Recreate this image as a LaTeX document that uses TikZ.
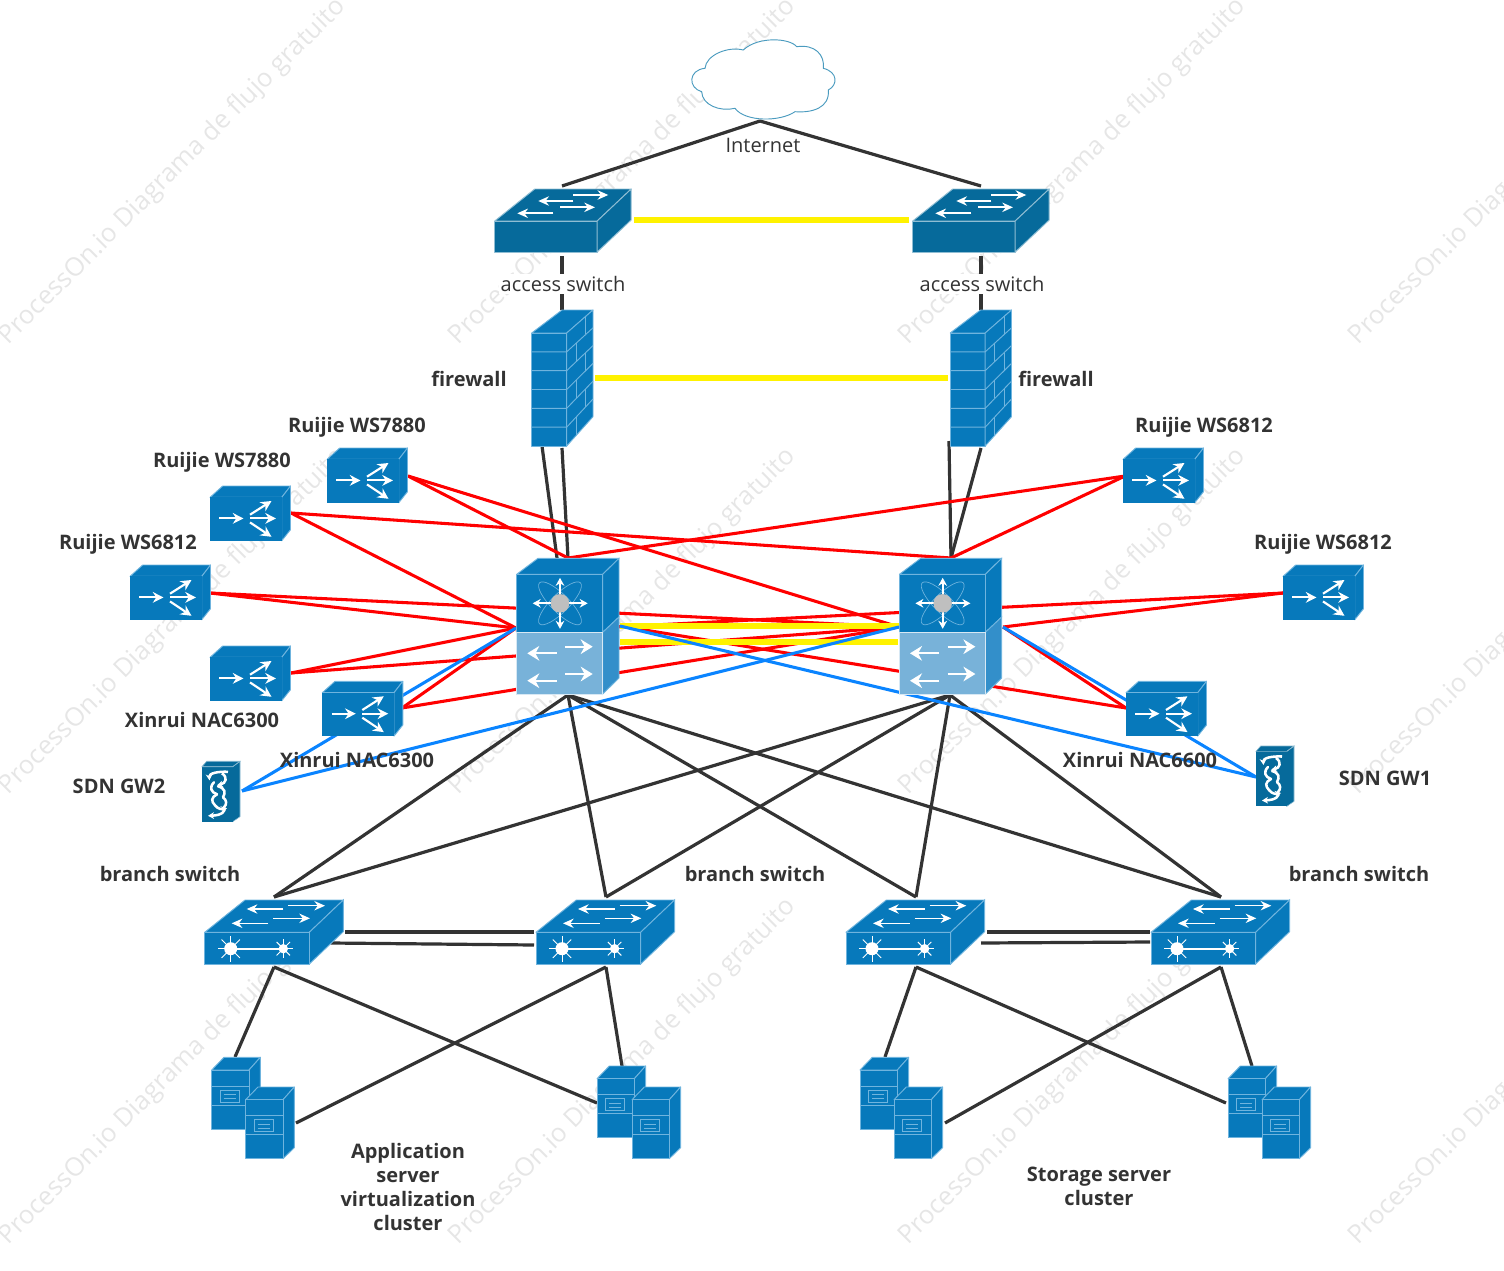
\documentclass[tikz,border=0pt]{standalone}
\usepackage{fontspec}
\setmainfont{Open Sans}
\usetikzlibrary{arrows.meta}
\definecolor{dk}{HTML}{066A9B}
\definecolor{bl}{HTML}{0779BB}
\definecolor{edgeb}{HTML}{6FB4DE}
\definecolor{edged}{HTML}{8FBDD3}
\definecolor{lightb}{HTML}{78B2D9}
\definecolor{midb}{HTML}{338FCA}
\definecolor{txt}{HTML}{333333}
\definecolor{wmk}{HTML}{E6E6E6}
\definecolor{blueline}{HTML}{0A84FF}
\definecolor{cloudc}{HTML}{4A9BBF}
\tikzset{
  x=0.75pt,y=-0.75pt,
  blk/.style={draw=txt,line width=2.4pt},
  redl/.style={draw=red,line width=2.3pt},
  yel/.style={draw=yellow,line width=3.9pt},
  yelb/.style={draw=yellow,line width=4.6pt},
  blu/.style={draw=blueline,line width=2.3pt},
  face/.style={fill=bl,draw=edgeb,line width=0.7pt,line join=round},
  faced/.style={fill=dk,draw=edged,line width=0.7pt,line join=round},
  wa/.style={draw=white,line width=1.3pt,-{Stealth[length=8pt,width=7pt]}},
  wb/.style={draw=white,line width=1.5pt,-{Stealth[length=9pt,width=11pt]}},
  wc/.style={draw=white,line width=1.5pt,-{Stealth[length=6pt,width=6.5pt]}},
  wr/.style={draw=white,line width=1.6pt,-{Stealth[length=8pt,width=8pt]}},
  wg/.style={draw=white,line width=1.9pt,line cap=round},
  wga/.style={draw=white,line width=1.9pt,-{Stealth[length=4.5pt,width=5pt]}},
  plain/.style={font=\fontsize{15}{18}\selectfont,text=txt,inner sep=1pt},
  bold/.style={font=\fontsize{15}{18}\selectfont\bfseries,text=txt,inner sep=1pt,align=center},
  wmark/.style={font=\fontsize{19.3}{24}\selectfont,text=wmk,rotate=45,inner sep=0pt},
  accesssw/.pic={
    \path[faced] (0,32)--(40,0)--(136.5,0)--(102.5,32)--cycle;
    \path[faced] (0,32) rectangle (102.5,63);
    \path[faced] (102.5,32)--(136.5,0)--(136.5,31)--(102.5,63)--cycle;
    \draw[wa] (78.6,6)--(113.6,6);
    \draw[wa] (78.6,12)--(43.6,12);
    \draw[wa] (65.3,18.3)--(100.3,18.3);
    \draw[wa] (58.6,24.3)--(22.6,24.3);
  },
  firewallic/.pic={
    \path[face] (0,23)--(30.3,0)--(61.3,0)--(35,23)--cycle;
    \path[face] (0,23) rectangle (35,136);
    \path[face] (35,23)--(61.3,0)--(61.3,106.7)--(35,136)--cycle;
    \foreach \k in {1,...,5}{
      \draw[edgeb,line width=0.7pt] (0,23+18.83*\k)--(35,23+18.83*\k)--(61.3,17.8*\k);
    }
    \foreach \k/\vx in {0/54,1/44.6,2/54,3/44.6,4/54,5/44.6}{
      \pgfmathsetmacro{\ya}{(23+18.83*\k)+(\vx-35)/26.3*(17.8*\k-23-18.83*\k)}
      \pgfmathsetmacro{\yb}{(23+18.83*(\k+1))+(\vx-35)/26.3*(17.8*(\k+1)-23-18.83*(\k+1))}
      \draw[edgeb,line width=0.7pt] (\vx,\ya)--(\vx,\yb);
    }
  },
  coreic/.pic={
    \path[face] (0,16)--(21.3,0)--(102.3,0)--(86,16)--cycle;
    \path[fill=bl,draw=edgeb,line width=0.7pt] (86,16)--(102.3,0)--(102.3,58.7)--(86,74)--cycle;
    \path[fill=midb,draw=edgeb,line width=0.7pt] (86,74)--(102.3,58.7)--(102.3,119.7)--(86,135.7)--cycle;
    \path[fill=bl,draw=edgeb,line width=0.7pt] (0,16) rectangle (86,74);
    \path[fill=lightb,draw=white!70!lightb,line width=0.7pt] (0,74) rectangle (86,135.7);
    \draw[edgeb,line width=0.5pt,rotate around={45:(43.3,45)}] (43.3,45) ellipse [x radius=29,y radius=9];
    \draw[edgeb,line width=0.5pt,rotate around={-45:(43.3,45)}] (43.3,45) ellipse [x radius=29,y radius=9];
    \draw[wc] (43.3,45)--(43.3,19.5);
    \draw[wc] (43.3,45)--(43.3,70.5);
    \draw[wc] (43.3,45)--(16,45);
    \draw[wc] (43.3,45)--(71,45);
    \fill[black!25] (43.3,45) circle (9.3);
    \draw[wb] (40,95)--(10.6,95);
    \draw[wb] (48.3,88.4)--(76,88.4);
    \draw[wb] (40,122.4)--(10.6,122.4);
    \draw[wb] (48.3,115.7)--(76,115.7);
  },
  routeric/.pic={
    \path[face] (0,11.4)--(12.7,0)--(80.5,0)--(71.7,11.4)--cycle;
    \path[face] (71.7,11.4)--(80.5,0)--(80.5,43.7)--(71.7,54.8)--cycle;
    \path[fill=bl] (0,11.4) rectangle (71.7,54.8);
    \draw[wr] (9.4,32.4)--(33.5,32.4);
    \draw[wr] (40,28.7)--(61.5,15);
    \draw[wr] (40,32.4)--(66,32.4);
    \draw[wr] (40,36.4)--(61.5,50.8);
  },
  branchic/.pic={
    \path[face] (0,32.3)--(40.3,0)--(138.6,0)--(104.6,32.3)--cycle;
    \path[fill=bl,draw=edgeb,line width=0.7pt] (104.6,32.3)--(138.6,0)--(138.6,31.7)--(104.6,64)--cycle;
    \path[fill=bl,draw=edgeb,line width=0.7pt] (0,32.3) rectangle (104.6,64);
    \draw[wa,line width=1.1pt] (78.6,9)--(42,9);
    \draw[wa,line width=1.1pt] (83.6,5.7)--(120.3,5.7);
    \draw[wa,line width=1.1pt] (68.6,18.3)--(105.3,18.3);
    \draw[wa,line width=1.1pt] (63.6,23.3)--(27,23.3);
    \draw[white,line width=1.4pt] (26,48.7)--(78.6,48.7);
    \fill[white] (26,48.7) circle (6.5) (78.6,48.7) circle (4.7);
    \foreach \a in {0,45,...,315}{
      \draw[white,line width=0.7pt] (26,48.7)--++(\a:13);
      \draw[white,line width=0.7pt] (78.6,48.7)--++(\a:9.5);
    }
  },
  serveric/.pic={
    \path[face] (0,12.7)--(12.3,0)--(48.6,0)--(37.3,12.7)--cycle;
    \path[face] (37.3,12.7)--(48.6,0)--(48.6,60.7)--(37.3,71.7)--cycle;
    \path[face] (0,12.7) rectangle (37.3,71.7);
    \draw[edgeb,line width=0.7pt] (0,28.7)--(37.3,28.7) (0,47.7)--(37.3,47.7);
    \draw[edgeb,line width=0.7pt] (8.3,32.7) rectangle (27.3,44.7);
    \draw[edgeb,line width=0.6pt] (12,37)--(24,37) (12,41)--(24,41);
  },
  gwic/.pic={
    \path[fill=dk] (0,5.4)--(4.7,0)--(38,0)--(30.7,5.4)--cycle;
    \path[fill=dk,draw=edged,line width=0.4pt] (30.7,5.4)--(38,0)--(38,55.4)--(30.7,60.4)--cycle;
    \path[fill=dk] (0,5.4) rectangle (30.7,60.4);
    \draw[white!50!dk,line width=0.5pt] (0,5.4)--(4.7,0)--(38,0)--(30.7,5.4)--cycle;
    \draw[wga] (26,10.5) .. controls (16,10) and (7,12) .. (7.5,19);
    \draw[wga] (20,12) .. controls (26,16) and (24,22) .. (15,24);
    \draw[wg] (12,21) .. controls (7,26) and (9,31) .. (15,33);
    \draw[wg] (16,25) .. controls (23,27) and (24,31) .. (21,36);
    \draw[wg] (15,33) .. controls (9,36) and (9,40) .. (13,44);
    \draw[wg] (21,36) .. controls (25,39) and (25,43) .. (22,46);
    \draw[wga] (13,44) .. controls (16,48) and (20,48) .. (25,47);
    \draw[wga] (22,46) .. controls (24,50) and (20,54) .. (6,54.5);
  },
}
\begin{document}
\begin{tikzpicture}
\useasboundingbox (0,0) rectangle (1504,1271);
\clip (0,0) rectangle (1504,1271);
% watermark
\foreach \i in {0,1,2,3}{\foreach \j in {0,1,2}{
  \node[wmark] (wm\i\j) at (173+450*\i,172+450*\j) {ProcessOn.io Diagrama de flujo gratuito};
}}
% anchors
\coordinate (cloudtip) at (760,121);
\coordinate (swAt) at (562,186); \coordinate (swBt) at (981,186);
\coordinate (swAb) at (562,256); \coordinate (swBb) at (981,256);
\coordinate (fwAt) at (562,310); \coordinate (fwBt) at (981,310);
\coordinate (fwAba) at (542,446); \coordinate (fwAbb) at (562,448);
\coordinate (fwBba) at (949,441); \coordinate (fwBbb) at (981,448);
\coordinate (coreAt) at (568,558); \coordinate (coreAtb) at (557,558); \coordinate (coreBt) at (951,558);
\coordinate (coreAb) at (568,695); \coordinate (coreBb) at (950,695);
\coordinate (coreAl) at (516,628); \coordinate (coreBl) at (899,627);
\coordinate (coreAr) at (620,626); \coordinate (coreBr) at (1003,627);
\coordinate (coreAlow) at (516,632);
\coordinate (brAt) at (274,897); \coordinate (brBt) at (606,897); \coordinate (brCt) at (916,897); \coordinate (brDt) at (1221,897);
\coordinate (brAb) at (274,967); \coordinate (brBb) at (606,967); \coordinate (brCb) at (916,967); \coordinate (brDb) at (1221,967);
\coordinate (wsa) at (408,476); \coordinate (wsb) at (291,513); \coordinate (wsc) at (210,593);
\coordinate (wsd) at (291,673); \coordinate (xna) at (402,708);
\coordinate (wse) at (1125,476); \coordinate (wsf) at (1283,593); \coordinate (xnb) at (1126,708);
\coordinate (gwa) at (242,791); \coordinate (gwb) at (1256,777);
\coordinate (srvA) at (235,1057); \coordinate (srvBa) at (597,1103); \coordinate (srvAb) at (296,1123); \coordinate (srvB) at (622,1066);
\coordinate (srvC) at (885,1057); \coordinate (srvDa) at (1226,1103); \coordinate (srvCb) at (945,1123); \coordinate (srvD) at (1252,1066);
% black
\draw[blk] (cloudtip)--(swAt);
\draw[blk] (cloudtip)--(swBt);
\draw[blk] (swAb)--(fwAt);
\draw[blk] (swBb)--(fwBt);
\draw[blk] (fwAba)--(coreAtb);
\draw[blk] (fwAbb)--(coreAt);
\draw[blk] (fwBba)--(coreBt);
\draw[blk] (fwBbb)--(coreBt);
\foreach \b in {brAt,brBt,brCt,brDt}{
  \draw[blk] (coreAb)--(\b);
  \draw[blk] (coreBb)--(\b);
}
\coordinate (lka) at (345,932); \coordinate (lkb) at (534,932);
\coordinate (lkc) at (331,943); \coordinate (lkd) at (534,945);
\coordinate (lke) at (987,932); \coordinate (lkf) at (1150,932);
\coordinate (lkg) at (981,943); \coordinate (lkh) at (1150,942);
\draw[blk] (lka)--(lkb);
\draw[blk] (lkc)--(lkd);
\draw[blk] (lke)--(lkf);
\draw[blk] (lkg)--(lkh);
\draw[blk] (brAb)--(srvA);
\draw[blk] (brAb)--(srvBa);
\draw[blk] (brBb)--(srvAb);
\draw[blk] (brBb)--(srvB);
\draw[blk] (brCb)--(srvC);
\draw[blk] (brCb)--(srvDa);
\draw[blk] (brDb)--(srvCb);
\draw[blk] (brDb)--(srvD);
% red
\draw[redl] (coreAt)--(wse);
\draw[redl] (coreBt)--(wse);
\draw[redl] (wsa)--(coreAt);
\draw[redl] (wsa)--(coreBl);
\draw[redl] (wsb)--(coreBt);
\draw[redl] (wsb)--(coreAl);
\draw[redl] (wsc)--(coreAl);
\draw[redl] (wsc)--(coreBl);
\draw[redl] (wsd)--(coreAl);
\draw[redl] (wsd)--(coreBl);
\draw[redl] (xna)--(coreAl);
\draw[redl] (xna)--(coreBl);
\draw[redl] (wsf)--(coreAlow);
\draw[redl] (wsf)--(coreBr);
\draw[redl] (xnb)--(coreBr);
\draw[redl] (xnb)--(coreAr);
% yellow
\coordinate (ya) at (634,220); \coordinate (yb) at (909,220);
\coordinate (yc) at (595,378); \coordinate (yd) at (948,378);
\coordinate (ye) at (620,626); \coordinate (yf) at (899,626);
\coordinate (yg) at (620,642); \coordinate (yh) at (898,642);
\draw[yel] (ya)--(yb);
\draw[yel] (yc)--(yd);
\draw[yelb] (ye)--(yf);
\draw[yelb] (yg)--(yh);
% blue
\draw[blu] (gwa)--(coreBl);
\draw[blu] (gwa)--(coreAl);
\draw[blu] (coreAr)--(gwb);
\draw[blu] (coreBr)--(gwb);
% cloud
\draw[cloudc,fill=white,line width=0.7pt]
  (705,68.3) .. controls (706,55) and (728,46) .. (743.3,50)
  .. controls (758,36) and (790,38) .. (796.7,46.7)
  .. controls (815,44) and (825,55) .. (823.3,68.3)
  .. controls (838,72) and (838,85) .. (828.3,90)
  .. controls (830,108) and (812,113) .. (795,111.7)
  .. controls (780,122) and (745,122) .. (735,108.3)
  .. controls (720,112) and (702,105) .. (701.7,91.7)
  .. controls (688,88) and (688,70) .. (705,68.3) -- cycle;
% icons
\pic at (494.7,189) {accesssw};
\pic at (912.7,189) {accesssw};
\pic at (531.7,310) {firewallic};
\pic at (950.2,310) {firewallic};
\pic at (516.7,558.3) {coreic};
\pic at (899.4,558.3) {coreic};
\foreach \px/\py in {327/448,210/486,130/565,210/646,322.3/681.3,1123/448,1283/565,1126/681.3}{
  \pic at (\px,\py) {routeric};
}
\pic at (202,761.3) {gwic};
\pic at (1256,746) {gwic};
\foreach \px in {204.7,536,846,1151}{
  \pic at (\px,900) {branchic};
}
\foreach \px/\py/\qx in {211.7/1057.3/245.7,597/1066/632,860/1057.3/894,1228/1066/1262}{
  \pic at (\px,\py) {serveric};
  \pic at (\qx,1087) {serveric};
}
% labels
\node[plain] (lblnet) at (763,145) {Internet};
\node[plain,fill=white,inner xsep=1pt,inner ysep=1.5pt] (lblsa) at (563,284) {access switch};
\node[plain,fill=white,inner xsep=1pt,inner ysep=1.5pt] (lblsb) at (982,284) {access switch};
\node[bold] (lblfa) at (469,379) {firewall};
\node[bold] (lblfb) at (1056,379) {firewall};
\node[bold] (lblw1) at (357,427) {Ruijie WS7880};
\node[bold] (lblw2) at (222,462) {Ruijie WS7880};
\node[bold] (lblw3) at (128,544) {Ruijie WS6812};
\node[bold] (lblw4) at (1204,427) {Ruijie WS6812};
\node[bold] (lblw5) at (1323,544) {Ruijie WS6812};
\node[bold] (lblx1) at (202,720) {Xinrui NAC6300};
\node[bold] (lblx2) at (357,760) {Xinrui NAC6300};
\node[bold] (lblx3) at (1140,760) {Xinrui NAC6600};
\node[bold] (lblg2) at (119,786) {SDN GW2};
\node[bold] (lblg1) at (1385,778) {SDN GW1};
\node[bold] (lblb1) at (170,874) {branch switch};
\node[bold] (lblb2) at (755,874) {branch switch};
\node[bold] (lblb3) at (1359,874) {branch switch};
\node[bold] (lblapp) at (408,1186.5) {Application\\server\\virtualization\\cluster};
\node[bold] (lblsto) at (1099,1186) {Storage server\\cluster};
\end{tikzpicture}
\end{document}
